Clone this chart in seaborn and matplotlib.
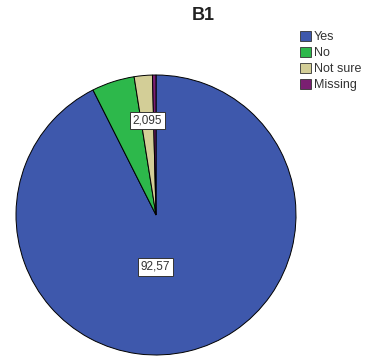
import matplotlib
matplotlib.use("Agg")
import matplotlib.pyplot as plt
import seaborn as sns

sns.set_theme(style="white")
plt.rcParams['font.family'] = ['Liberation Sans', 'DejaVu Sans']

categories = ["Yes", "No", "Not sure", "Missing"]
values = [92.57, 4.93, 2.095, 0.405]
colors = ["#3E58AC", "#2DB84B", "#D3CE97", "#7A1F72"]
shown_labels = {"Yes": "92,57", "Not sure": "2,095"}

fig = plt.figure(figsize=(3.67, 3.60), dpi=100)
fig.patch.set_facecolor("white")
ax = fig.add_axes([15 / 367, 5 / 360, 282 / 367, 280 / 360])

wedges, _ = ax.pie(values, colors=colors, startangle=90, counterclock=False,
                   wedgeprops=dict(edgecolor="black", linewidth=0.7))
ax.set_aspect("equal")
ax.set_xlim(-1, 1)
ax.set_ylim(-1, 1)

label_pos = {"Not sure": (-0.06, 0.675), "Yes": (-0.005, -0.37)}
box = dict(boxstyle="square,pad=0.25", facecolor="white", edgecolor="#333333", linewidth=0.7)
for cat, txt in shown_labels.items():
    x, y = label_pos[cat]
    ax.text(x, y, txt, ha="center", va="center", fontsize=8.5, color="#333333", bbox=box)

fig.text(203 / 367, 1 - 15 / 360, "B1", ha="center", va="center",
         fontsize=13, fontweight="bold", color="#222222")

leg = fig.legend(wedges, categories, loc="upper left", bbox_to_anchor=(300 / 367, 1 - 31 / 360),
                 frameon=False, fontsize=9, handlelength=0.9, handleheight=0.9,
                 handletextpad=0.2, labelspacing=0.27, borderaxespad=0, borderpad=0)
for h in leg.legend_handles:
    h.set_edgecolor("#333333")
    h.set_linewidth(0.6)
for t in leg.get_texts():
    t.set_color("#333333")

fig.savefig("out.png", dpi=100, facecolor="white")
